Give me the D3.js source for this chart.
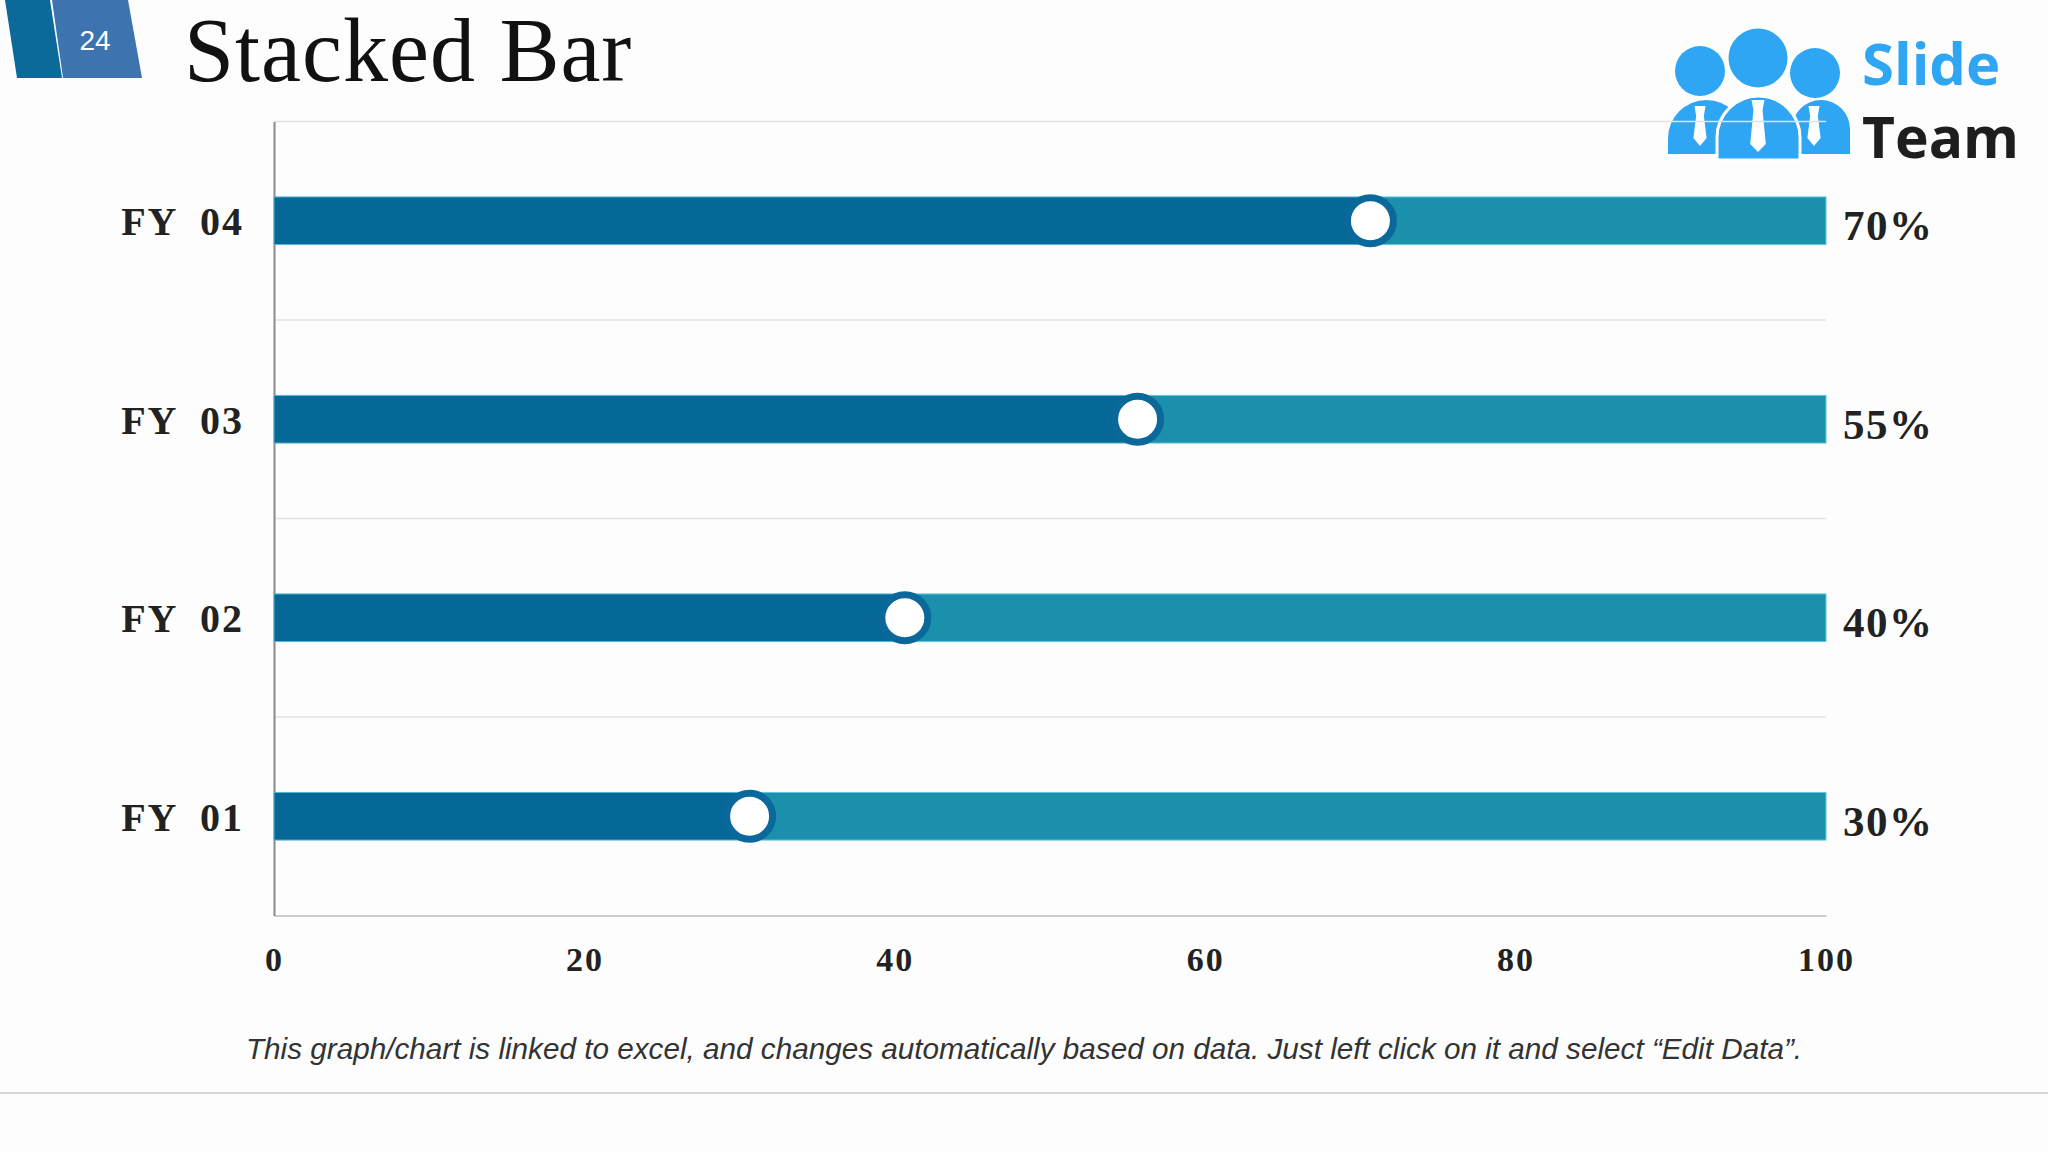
<!DOCTYPE html>
<html>
<head>
<meta charset="utf-8">
<script src="https://cdn.jsdelivr.net/npm/d3@7"></script>
<style>
  html, body { margin: 0; padding: 0; background: #fdfdfd; }
  svg { display: block; }
</style>
</head>
<body>
<svg id="chart" width="2048" height="1152"></svg>
<script>
// ---- data ----
const categories = ["FY 01", "FY 02", "FY 03", "FY 04"];
const achieved = [30, 40, 55, 70];
const remaining = [70, 60, 45, 30];
const valueLabels = ["30%", "40%", "55%", "70%"];
const xTicks = [0, 20, 40, 60, 80, 100];
const titleText = "Stacked Bar";
const slideNumber = "24";
const footnote = "This graph/chart is linked to excel, and changes automatically based on data. Just left click on it and select \u201cEdit Data\u201d.";

const svg = d3.select("#chart");
const W = 2048, H = 1152;
svg.append("rect").attr("width", W).attr("height", H).attr("fill", "#fdfdfd");

const serif = "'Liberation Serif', 'DejaVu Serif', serif";
const sans = "'Liberation Sans', Arial, sans-serif";

// ---- header badge ----
svg.append("polygon").attr("points", "5,0 50,0 62,78 17,78").attr("fill", "#0b6a9a");
svg.append("polygon").attr("points", "52,0 128,0 142,78 63,78").attr("fill", "#3d73ae");
svg.append("text").attr("x", 95).attr("y", 40).attr("text-anchor", "middle")
  .attr("dominant-baseline", "central").attr("fill", "#ffffff")
  .style("font-family", sans).style("font-size", "28px").text(slideNumber);

svg.append("text").attr("x", 184).attr("y", 81)
  .attr("fill", "#111").style("font-family", serif).style("font-size", "90px")
  .style("letter-spacing", "1px")
  .text(titleText);

// ---- logo ----
const logo = svg.append("g");
const blue = "#2ea6f3";
function body(x0, x1, y0, y1) {
  const r = (x1 - x0) / 2;
  const ry = Math.min(r, (y1 - y0) * 0.75);
  return `M${x0},${y1} V${y0 + ry} A${r},${ry} 0 0 1 ${x1},${y0 + ry} V${y1} Z`;
}
function tie(cx, y0, y1, w) {
  const k = 5;
  return `M${cx - w * 0.5},${y0} H${cx + w * 0.5} L${cx + w * 0.35},${y0 + k * 2} L${cx + w * 0.6},${y1 - 8} L${cx},${y1} L${cx - w * 0.6},${y1 - 8} L${cx - w * 0.35},${y0 + k * 2} Z`;
}
logo.append("path").attr("d", body(1668, 1745, 100, 154)).attr("fill", blue);
logo.append("path").attr("d", body(1792, 1850, 100, 154)).attr("fill", blue);
logo.append("circle").attr("cx", 1700).attr("cy", 71).attr("r", 25).attr("fill", blue);
logo.append("circle").attr("cx", 1815).attr("cy", 73).attr("r", 25).attr("fill", blue);
logo.append("path").attr("d", tie(1700, 106, 146, 11)).attr("fill", "#fff");
logo.append("path").attr("d", tie(1814, 106, 146, 11)).attr("fill", "#fff");
logo.append("path").attr("d", body(1717, 1800, 96, 160)).attr("fill", blue).attr("stroke", "#fff").attr("stroke-width", 3);
logo.append("circle").attr("cx", 1758).attr("cy", 58).attr("r", 31).attr("fill", blue).attr("stroke", "#fff").attr("stroke-width", 3);
logo.append("path").attr("d", tie(1758, 100, 152, 13)).attr("fill", "#fff");
logo.append("text").attr("x", 1862).attr("y", 85).attr("fill", blue)
  .style("font-family", "'Open Sans', 'Noto Sans', sans-serif").style("font-weight", "bold").style("font-size", "58px").text("Slide");
logo.append("text").attr("x", 1862).attr("y", 158).attr("fill", "#1e1e1e")
  .style("font-family", "'Open Sans', 'Noto Sans', sans-serif").style("font-weight", "bold").style("font-size", "57px").text("Team");

// ---- chart ----
const pL = 274, pR = 1826, pT = 121.5, pB = 915.5;
const x = d3.scaleLinear().domain([0, 100]).range([pL, pR]);
const y = d3.scaleBand().domain(categories.slice().reverse()).range([pT, pB]).padding(0);
const barH = y.bandwidth() * 0.24;

// gridlines at band boundaries
svg.append("g").selectAll("line").data(categories.slice().reverse().map(c => y(c)))
  .join("line")
  .attr("x1", pL).attr("x2", pR)
  .attr("y1", d => d).attr("y2", d => d)
  .attr("stroke", "#e2e2e2").attr("stroke-width", 1.5);

// x axis
const xAxis = svg.append("g").attr("transform", `translate(0,${pB})`)
  .call(d3.axisBottom(x).tickValues(xTicks).tickSize(0).tickPadding(31).tickFormat(d3.format("d")));
xAxis.select(".domain").attr("stroke", "#bdbdbd").attr("stroke-width", 1.5);
xAxis.selectAll("text").attr("fill", "#222").style("font-family", serif)
  .style("font-weight", "bold").style("font-size", "34px").style("letter-spacing", "2px");

// y axis
const yAxis = svg.append("g").attr("transform", `translate(${pL},0)`)
  .call(d3.axisLeft(y).tickSize(0).tickPadding(30));
yAxis.select(".domain").attr("stroke", "#8a8a8a").attr("stroke-width", 2);
yAxis.selectAll("text").attr("fill", "#222").style("font-family", serif)
  .style("font-weight", "bold").style("font-size", "40px").style("word-spacing", "11px")
  .style("letter-spacing", "2px")
  .attr("dy", "0.36em");

// bars
const rows = categories.map((c, i) => ({ c, a: achieved[i], r: remaining[i], label: valueLabels[i] }));
const g = svg.append("g");
g.selectAll("rect.rem").data(rows).join("rect").attr("class", "rem")
  .attr("x", d => x(d.a)).attr("width", d => x(d.a + d.r) - x(d.a))
  .attr("y", d => y(d.c) + (y.bandwidth() - barH) / 2).attr("height", barH)
  .attr("fill", "#1a90ac").attr("stroke", "#63c6e0").attr("stroke-width", 1);
g.selectAll("rect.ach").data(rows).join("rect").attr("class", "ach")
  .attr("x", x(0)).attr("width", d => x(d.a) - x(0))
  .attr("y", d => y(d.c) + (y.bandwidth() - barH) / 2).attr("height", barH)
  .attr("fill", "#066896").attr("stroke", "#58b7d6").attr("stroke-width", 1);
// markers
g.selectAll("circle").data(rows).join("circle")
  .attr("cx", d => x(d.a) + 10).attr("cy", d => y(d.c) + y.bandwidth() / 2)
  .attr("r", 23).attr("fill", "#ffffff").attr("stroke", "#0a689a").attr("stroke-width", 7);

// value labels
g.selectAll("text.val").data(rows).join("text").attr("class", "val")
  .attr("x", 1843).attr("y", d => y(d.c) + y.bandwidth() / 2 + 5)
  .attr("dominant-baseline", "central").attr("fill", "#222")
  .style("font-family", serif).style("font-weight", "bold").style("font-size", "43px")
  .style("letter-spacing", "1.5px")
  .text(d => d.label);

// footnote
svg.append("text").attr("x", 1024).attr("y", 1048).attr("text-anchor", "middle")
  .attr("dominant-baseline", "central").attr("fill", "#333")
  .style("font-family", sans).style("font-style", "italic").style("font-size", "29.7px")
  .text(footnote);

svg.append("line").attr("x1", 0).attr("x2", W).attr("y1", 1093).attr("y2", 1093)
  .attr("stroke", "#d6d6d6").attr("stroke-width", 2);
</script>
</body>
</html>
